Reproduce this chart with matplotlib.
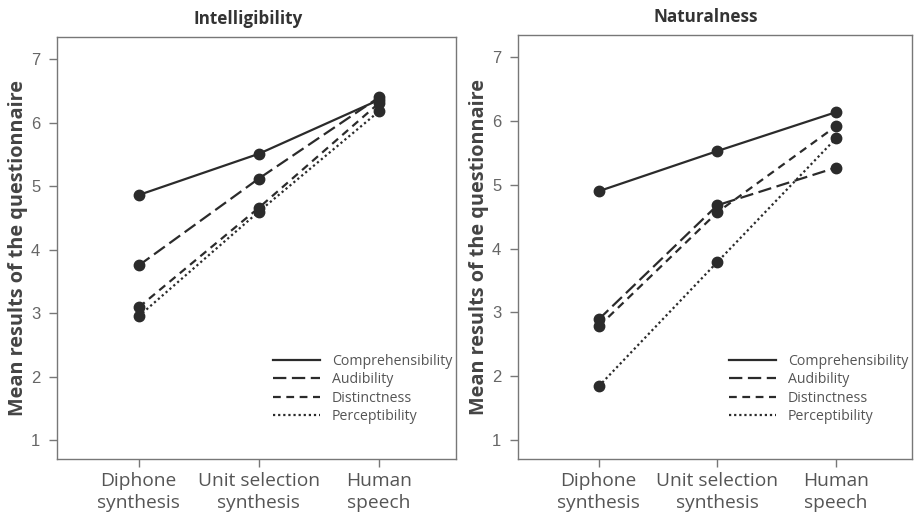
import matplotlib
matplotlib.use("Agg")
import matplotlib.pyplot as plt

categories = ["Diphone\nsynthesis", "Unit selection\nsynthesis", "Human\nspeech"]
series_names = ["Comprehensibility", "Audibility", "Distinctness", "Perceptibility"]

intelligibility_comprehensibility = [4.86, 5.51, 6.36]
intelligibility_audibility = [3.75, 5.12, 6.40]
intelligibility_distinctness = [3.09, 4.66, 6.31]
intelligibility_perceptibility = [2.95, 4.60, 6.18]

naturalness_comprehensibility = [4.90, 5.53, 6.14]
naturalness_audibility = [2.89, 4.68, 5.27]
naturalness_distinctness = [2.78, 4.57, 5.92]
naturalness_perceptibility = [1.84, 3.79, 5.73]

yticks = [1, 2, 3, 4, 5, 6, 7]
titles = ["Intelligibility", "Naturalness"]
ylabel = "Mean results of the questionnaire"

line_color = "#2b2b2b"
styles = [
    dict(linestyle="-"),
    dict(linestyle=(0, (6, 2.5))),
    dict(linestyle=(0, (3.5, 2.5))),
    dict(linestyle=(0, (1, 1.3))),
]

fig = plt.figure(figsize=(9.15, 5.18), dpi=100)
axes_rects = [
    [57 / 915, 59 / 518, 399 / 915, 422 / 518],
    [518 / 915, 59 / 518, 394 / 915, 424 / 518],
]
title_x = [0.48, 0.477]
panels = [
    [intelligibility_comprehensibility, intelligibility_audibility,
     intelligibility_distinctness, intelligibility_perceptibility],
    [naturalness_comprehensibility, naturalness_audibility,
     naturalness_distinctness, naturalness_perceptibility],
]

x = [1, 2, 3]
for rect, data, title, tx in zip(axes_rects, panels, titles, title_x):
    ax = fig.add_axes(rect)
    for vals, name, st in zip(data, series_names, styles):
        ax.plot(x, vals, color=line_color, linewidth=1.6, label=name, **st)
        ax.plot(x, vals, linestyle="none", marker="o", markersize=7.5,
                color=line_color)
    ax.set_xlim(0.32, 3.64)
    ax.set_ylim(0.70, 7.35)
    ax.set_yticks(yticks)
    ax.set_yticklabels([str(v) for v in yticks], fontfamily="Liberation Sans",
                       fontsize=12, color="#666666")
    ax.set_xticks(x)
    ax.set_xticklabels(categories, fontfamily="Open Sans", fontsize=13.8,
                       color="#555555", linespacing=1.35)
    ax.tick_params(axis="both", direction="out", length=6, width=1,
                   color="#777777")
    ax.tick_params(axis="y", pad=6)
    ax.tick_params(axis="x", pad=3)
    for s in ax.spines.values():
        s.set_color("#777777")
        s.set_linewidth(1.0)
    ax.set_title(title, fontfamily="Open Sans", fontweight="bold", fontsize=12.3,
                 color="#333333", pad=9, x=tx)
    ax.set_ylabel(ylabel, fontfamily="Open Sans", fontweight="bold", fontsize=14.3,
                  color="#444444", labelpad=2)
    handles = [plt.Line2D([], [], color=line_color, linewidth=1.6, **st)
               for st in styles]
    leg = ax.legend(handles, series_names, loc="lower right",
                    bbox_to_anchor=(1.012, 0.062), frameon=False,
                    prop={"family": "Open Sans", "size": 10.2},
                    handlelength=3.3, handletextpad=0.85, labelspacing=0.25,
                    borderaxespad=0.2)
    for t in leg.get_texts():
        t.set_color("#555555")

fig.savefig("out.png", dpi=100)
